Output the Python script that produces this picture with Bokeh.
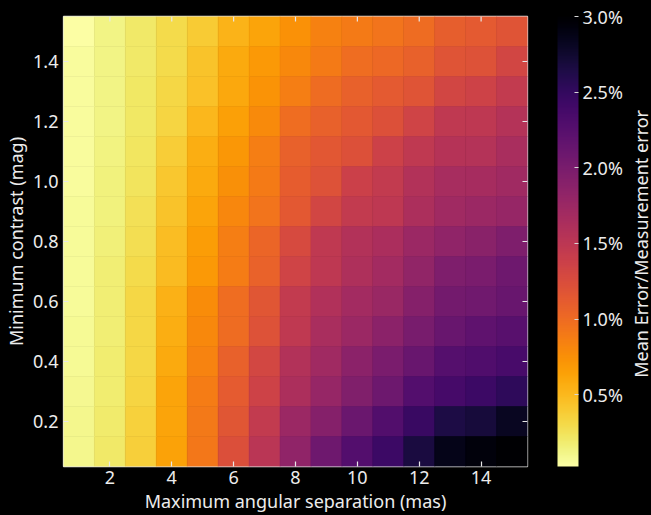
import math
from bokeh.plotting import figure
from bokeh.layouts import row
from bokeh.models import (ColumnDataSource, LinearColorMapper, ColorBar, FixedTicker,
                          PrintfTickFormatter)
from bokeh.palettes import Inferno256
from bokeh.transform import transform
from bokeh.embed import file_html
from bokeh.resources import INLINE

# Grid axes: maximum angular separation (mas) and minimum contrast (mag)
separations = [1, 2, 3, 4, 5, 6, 7, 8, 9, 10, 11, 12, 13, 14, 15]
contrasts = [1.5, 1.4, 1.3, 1.2, 1.1, 1.0, 0.9, 0.8, 0.7, 0.6, 0.5, 0.4, 0.3, 0.2, 0.1]

# Mean error / measurement error (%) per contrast row, one value per separation
err_c150 = [0.025, 0.129, 0.204, 0.293, 0.388, 0.531, 0.620, 0.739, 0.843, 0.888, 0.932, 1.001, 1.102, 1.132, 1.185]
err_c140 = [0.055, 0.129, 0.204, 0.293, 0.442, 0.590, 0.694, 0.799, 0.888, 0.986, 1.022, 1.078, 1.185, 1.206, 1.319]
err_c130 = [0.055, 0.129, 0.218, 0.323, 0.453, 0.599, 0.733, 0.873, 1.001, 1.078, 1.132, 1.185, 1.319, 1.352, 1.444]
err_c120 = [0.055, 0.129, 0.218, 0.337, 0.507, 0.650, 0.787, 0.986, 1.078, 1.147, 1.215, 1.340, 1.468, 1.489, 1.563]
err_c110 = [0.055, 0.138, 0.233, 0.382, 0.561, 0.709, 0.873, 1.078, 1.156, 1.221, 1.364, 1.468, 1.548, 1.563, 1.643]
err_c100 = [0.055, 0.144, 0.239, 0.412, 0.590, 0.748, 0.888, 1.117, 1.200, 1.376, 1.453, 1.572, 1.658, 1.664, 1.715]
err_c090 = [0.064, 0.150, 0.263, 0.442, 0.620, 0.804, 0.932, 1.147, 1.319, 1.444, 1.483, 1.623, 1.715, 1.745, 1.789]
err_c080 = [0.064, 0.159, 0.278, 0.471, 0.668, 0.873, 1.045, 1.275, 1.468, 1.572, 1.637, 1.745, 1.831, 1.875, 1.959]
err_c070 = [0.070, 0.165, 0.293, 0.489, 0.694, 0.882, 1.066, 1.340, 1.483, 1.608, 1.691, 1.825, 1.959, 1.989, 2.072]
err_c060 = [0.070, 0.174, 0.323, 0.543, 0.769, 0.986, 1.164, 1.453, 1.584, 1.688, 1.759, 1.911, 2.042, 2.063, 2.128]
err_c050 = [0.079, 0.174, 0.323, 0.561, 0.799, 1.001, 1.206, 1.468, 1.649, 1.751, 1.870, 2.006, 2.122, 2.188, 2.241]
err_c040 = [0.079, 0.180, 0.323, 0.590, 0.828, 1.078, 1.310, 1.572, 1.715, 1.870, 1.989, 2.128, 2.262, 2.301, 2.360]
err_c030 = [0.085, 0.183, 0.337, 0.620, 0.882, 1.126, 1.352, 1.623, 1.789, 1.950, 2.093, 2.271, 2.369, 2.435, 2.533]
err_c020 = [0.099, 0.189, 0.352, 0.620, 0.903, 1.164, 1.453, 1.745, 1.911, 2.108, 2.286, 2.465, 2.649, 2.688, 2.822]
err_c010 = [0.099, 0.204, 0.367, 0.635, 0.918, 1.224, 1.513, 1.831, 2.078, 2.271, 2.435, 2.673, 2.866, 2.941, 3.000]

error_rows = [err_c150, err_c140, err_c130, err_c120, err_c110, err_c100, err_c090, err_c080,
              err_c070, err_c060, err_c050, err_c040, err_c030, err_c020, err_c010]

x_ticks = [2, 4, 6, 8, 10, 12, 14]
y_ticks = [0.2, 0.4, 0.6, 0.8, 1.0, 1.2, 1.4]
cbar_ticks = [0.5, 1.0, 1.5, 2.0, 2.5, 3.0]

# Flatten the grid into one row per cell
xs, ys, vals = [], [], []
for c, r in zip(contrasts, error_rows):
    for s, v in zip(separations, r):
        xs.append(s)
        ys.append(c)
        vals.append(v)
src = ColumnDataSource(dict(x=xs, y=ys, v=vals))

mapper = LinearColorMapper(palette=list(reversed(Inferno256)), low=min(vals), high=max(vals))

FONT = "Noto Sans"
TXT = "#ececec"
FS = "18px"
TICK = "#e8e8e8"

x0, x1 = 0.5, 15.5
y0, y1 = 0.05, 1.55

# Main heat map with its colour bar
p = figure(width=625, height=515, x_range=(x0, x1), y_range=(y0, y1),
           output_backend="svg", toolbar_location=None,
           background_fill_color="black", border_fill_color="black",
           min_border_left=63, min_border_right=96, min_border_top=16, min_border_bottom=49,
           outline_line_color="#e0e0e0", outline_line_width=1.3)

p.rect(x="x", y="y", width=1, height=0.1, source=src,
       fill_color=transform("v", mapper), line_color=transform("v", mapper), line_width=0.6)

p.grid.visible = False

p.xaxis.ticker = FixedTicker(ticks=x_ticks)
p.yaxis.ticker = FixedTicker(ticks=y_ticks)
p.yaxis.formatter = PrintfTickFormatter(format="%.1f")
p.xaxis.axis_label = "Maximum angular separation (mas)"
p.yaxis.axis_label = "Minimum contrast (mag)"

for ax in (p.xaxis[0], p.yaxis[0]):
    ax.axis_line_color = None
    ax.major_tick_in = 5
    ax.major_tick_out = 0
    ax.major_tick_line_color = TICK
    ax.major_tick_line_width = 1.2
    ax.minor_tick_line_color = None
    ax.major_label_text_color = TXT
    ax.major_label_text_font = FONT
    ax.major_label_text_font_size = FS
    ax.axis_label_text_color = TXT
    ax.axis_label_text_font = FONT
    ax.axis_label_text_font_size = FS
    ax.axis_label_text_font_style = "normal"
p.xaxis.major_label_standoff = 4
p.xaxis.axis_label_standoff = 2
p.yaxis.major_label_standoff = 5
p.yaxis.axis_label_standoff = 2

# Mirrored inward ticks on the top and right edges of the frame
p.ray(x=x_ticks, y=[y1] * len(x_ticks), length=5, length_units="screen",
      angle=-math.pi / 2, line_color=TICK, line_width=1.2)
p.ray(x=[x1] * len(y_ticks), y=y_ticks, length=5, length_units="screen",
      angle=math.pi, line_color=TICK, line_width=1.2)

cbar = ColorBar(color_mapper=mapper, width=21, height=450, margin=0, padding=0,
                location=(30, 0),
                ticker=FixedTicker(ticks=cbar_ticks),
                formatter=PrintfTickFormatter(format="%.1f%%"),
                major_tick_in=4, major_tick_out=0, major_tick_line_color="#d8d8d8",
                minor_tick_line_color=None, bar_line_color=None,
                major_label_text_color=TXT, major_label_text_font=FONT,
                major_label_text_font_size=FS, label_standoff=4,
                background_fill_color="black", border_line_color=None)
p.add_layout(cbar, "right")

# Narrow strip carrying the colour bar caption as a vertical axis label
cap = figure(width=26, height=515, x_range=(0, 1), y_range=(0, 1),
             output_backend="svg", toolbar_location=None, x_axis_location=None,
             background_fill_color="black", border_fill_color="black",
             outline_line_color=None,
             min_border_left=15, min_border_right=0, min_border_top=16, min_border_bottom=49)
cap.grid.visible = False
cap.yaxis.ticker = FixedTicker(ticks=[])
cap.yaxis.axis_line_color = None
cap.yaxis.major_tick_in = 0
cap.yaxis.major_tick_out = 0
cap.yaxis.minor_tick_line_color = None
cap.yaxis.major_label_standoff = 0
cap.yaxis.axis_label = "Mean  Error/Measurement error"
cap.yaxis.axis_label_text_color = TXT
cap.yaxis.axis_label_text_font = FONT
cap.yaxis.axis_label_text_font_size = FS
cap.yaxis.axis_label_text_font_style = "normal"
cap.yaxis.axis_label_standoff = -8

layout = row(p, cap, spacing=0, styles={"background-color": "black"})

open("out.html", "w").write(file_html(layout, INLINE))
